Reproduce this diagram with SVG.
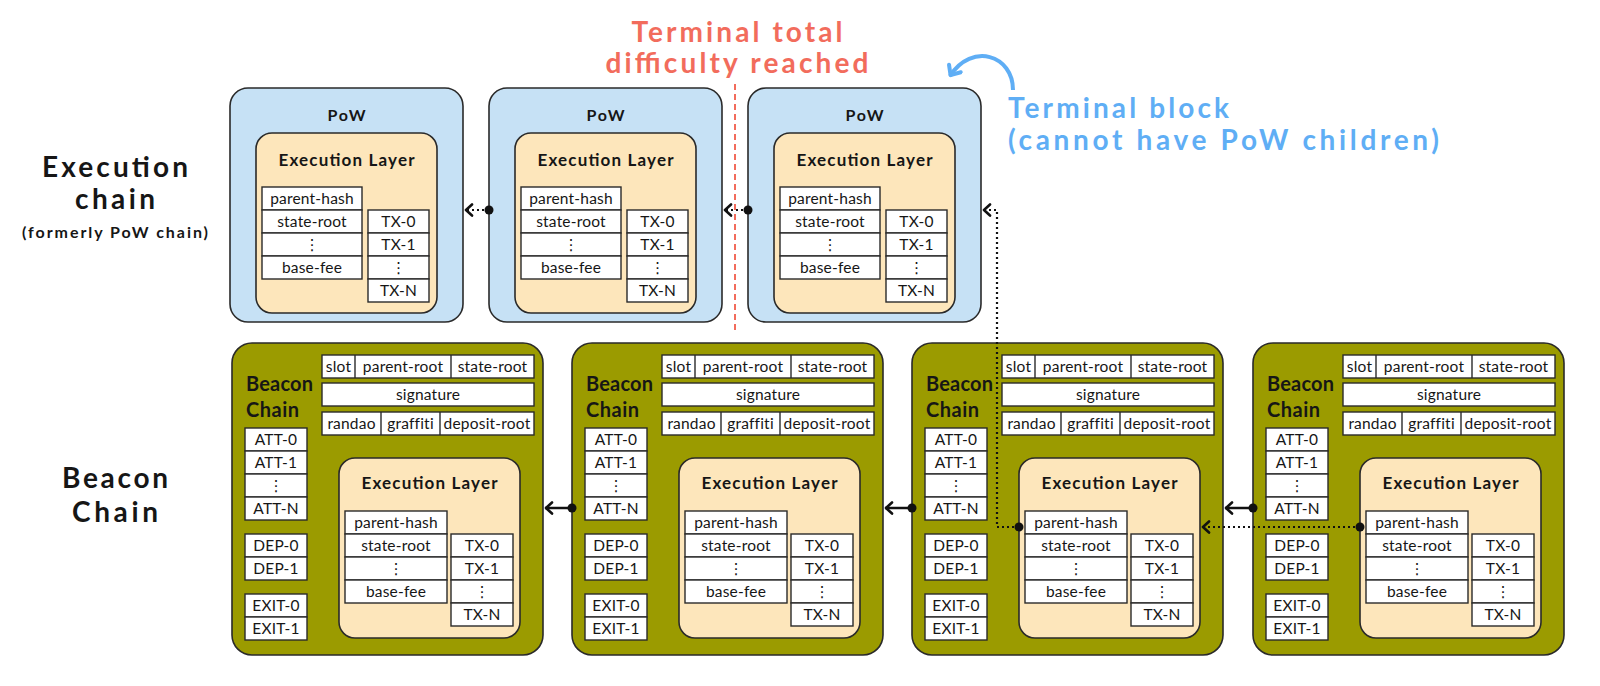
<svg xmlns="http://www.w3.org/2000/svg" width="1600" height="686" viewBox="0 0 1600 686">
<style>
text{font-family:Lato,"Noto Sans","DejaVu Sans",sans-serif;fill:#161616}
.b{font-weight:bold}
.c{text-anchor:middle}
.big{font-size:28px;font-weight:bold;text-anchor:middle}
.t{font-size:15.5px;text-anchor:middle;letter-spacing:0.2px}
.cell{fill:#ffffff;stroke:#2a2a2a;stroke-width:1.4}
.div{stroke:#2a2a2a;stroke-width:1.4}
.pow{fill:#c6e1f5;stroke:#2a2a2a;stroke-width:1.6}
.exe{fill:#fde6bb;stroke:#2a2a2a;stroke-width:1.6}
.bea{fill:#9b9b00;stroke:#2a2a2a;stroke-width:1.6}
.ttl{font-size:17px;font-weight:bold;text-anchor:middle}
.pw{font-size:16px;font-weight:bold;text-anchor:middle}
.bc{font-size:20px;font-weight:bold}
.red{font-size:28px;font-weight:bold;text-anchor:middle;fill:#f26c5c}
.blue{font-size:28px;font-weight:bold;fill:#5faef5}
.dot{stroke:#111;stroke-width:2.2;stroke-dasharray:2 3;fill:none}
.sol{stroke:#111;stroke-width:2.5;fill:none}
</style>
<defs>
<marker id="arr" viewBox="-10 -7 12 14" markerWidth="12" markerHeight="14" refX="0" refY="0" orient="auto" markerUnits="userSpaceOnUse">
<path d="M-7,-5.5 L-1,0 L-7,5.5" fill="none" stroke="#111" stroke-width="2.6" stroke-linecap="round" stroke-linejoin="round"/>
</marker>
<marker id="arrb" viewBox="-12 -9 14 18" markerWidth="14" markerHeight="18" refX="0" refY="0" orient="auto" markerUnits="userSpaceOnUse">
<path d="M-9,-7 L-1,0 L-9,7" fill="none" stroke="#5faef5" stroke-width="4" stroke-linecap="round" stroke-linejoin="round"/>
</marker>
</defs>

<!-- Side labels -->
<g id="label-execution">
<text class="big" x="115" y="177" textLength="146">Execution</text>
<text class="big" x="115" y="209" textLength="80">chain</text>
<text class="c b" x="115" y="238" font-size="16" textLength="186">(formerly PoW chain)</text>
</g>
<g id="label-beacon">
<text class="big" x="115" y="488" textLength="106">Beacon</text>
<text class="big" x="115" y="522" textLength="86">Chain</text>
</g>

<!-- Annotations -->
<g id="ttd">
<text class="red" x="737" y="42" textLength="211">Terminal total</text>
<text class="red" x="737" y="73" textLength="263">difficulty reached</text>
<line x1="735" y1="84" x2="735" y2="330" stroke="#f26c5c" stroke-width="2" stroke-dasharray="6 4"/>
</g>
<g id="terminal-block">
<text class="blue" x="1008" y="118" textLength="221">Terminal block</text>
<text class="blue" x="1008" y="150" textLength="431">(cannot have PoW children)</text>
<path d="M1013,90 C1013,55 972,42 950,76" fill="none" stroke="#5faef5" stroke-width="4" marker-end="url(#arrb)"/>
</g>

<!-- PoW blocks -->
<g id="pow1" transform="translate(230,0)">
<rect class="pow" x="0" y="88" width="233" height="234" rx="18"/>
<text class="pw" x="116.5" y="121" textLength="38">PoW</text>
<rect class="exe" x="26" y="133" width="181" height="180" rx="16"/>
<text class="ttl" x="116.5" y="166" textLength="136">Execution Layer</text>
<rect class="cell" x="32" y="187" width="100" height="23"/><text class="t" x="82" y="204">parent-hash</text>
<rect class="cell" x="32" y="210" width="100" height="23"/><text class="t" x="82" y="227">state-root</text>
<rect class="cell" x="32" y="233" width="100" height="23"/><text class="t" x="82" y="250">⋮</text>
<rect class="cell" x="32" y="256" width="100" height="23"/><text class="t" x="82" y="273">base-fee</text>
<rect class="cell" x="138" y="210" width="61" height="23"/><text class="t" x="168.5" y="227">TX-0</text>
<rect class="cell" x="138" y="233" width="61" height="23"/><text class="t" x="168.5" y="250">TX-1</text>
<rect class="cell" x="138" y="256" width="61" height="23"/><text class="t" x="168.5" y="273">⋮</text>
<rect class="cell" x="138" y="279" width="61" height="23"/><text class="t" x="168.5" y="296">TX-N</text>
</g>
<g id="pow2" transform="translate(489,0)">
<rect class="pow" x="0" y="88" width="233" height="234" rx="18"/>
<text class="pw" x="116.5" y="121" textLength="38">PoW</text>
<rect class="exe" x="26" y="133" width="181" height="180" rx="16"/>
<text class="ttl" x="116.5" y="166" textLength="136">Execution Layer</text>
<rect class="cell" x="32" y="187" width="100" height="23"/><text class="t" x="82" y="204">parent-hash</text>
<rect class="cell" x="32" y="210" width="100" height="23"/><text class="t" x="82" y="227">state-root</text>
<rect class="cell" x="32" y="233" width="100" height="23"/><text class="t" x="82" y="250">⋮</text>
<rect class="cell" x="32" y="256" width="100" height="23"/><text class="t" x="82" y="273">base-fee</text>
<rect class="cell" x="138" y="210" width="61" height="23"/><text class="t" x="168.5" y="227">TX-0</text>
<rect class="cell" x="138" y="233" width="61" height="23"/><text class="t" x="168.5" y="250">TX-1</text>
<rect class="cell" x="138" y="256" width="61" height="23"/><text class="t" x="168.5" y="273">⋮</text>
<rect class="cell" x="138" y="279" width="61" height="23"/><text class="t" x="168.5" y="296">TX-N</text>
</g>
<g id="pow3" transform="translate(748,0)">
<rect class="pow" x="0" y="88" width="233" height="234" rx="18"/>
<text class="pw" x="116.5" y="121" textLength="38">PoW</text>
<rect class="exe" x="26" y="133" width="181" height="180" rx="16"/>
<text class="ttl" x="116.5" y="166" textLength="136">Execution Layer</text>
<rect class="cell" x="32" y="187" width="100" height="23"/><text class="t" x="82" y="204">parent-hash</text>
<rect class="cell" x="32" y="210" width="100" height="23"/><text class="t" x="82" y="227">state-root</text>
<rect class="cell" x="32" y="233" width="100" height="23"/><text class="t" x="82" y="250">⋮</text>
<rect class="cell" x="32" y="256" width="100" height="23"/><text class="t" x="82" y="273">base-fee</text>
<rect class="cell" x="138" y="210" width="61" height="23"/><text class="t" x="168.5" y="227">TX-0</text>
<rect class="cell" x="138" y="233" width="61" height="23"/><text class="t" x="168.5" y="250">TX-1</text>
<rect class="cell" x="138" y="256" width="61" height="23"/><text class="t" x="168.5" y="273">⋮</text>
<rect class="cell" x="138" y="279" width="61" height="23"/><text class="t" x="168.5" y="296">TX-N</text>
</g>

<!-- Beacon blocks -->
<g id="beacon1" transform="translate(232,0)">
<rect class="bea" x="0" y="343" width="311" height="312" rx="20"/>
<rect class="cell" x="90" y="355" width="212" height="23"/><line class="div" x1="123" y1="355" x2="123" y2="378"/><line class="div" x1="219" y1="355" x2="219" y2="378"/>
<text class="t" x="106.5" y="372">slot</text><text class="t" x="171" y="372">parent-root</text><text class="t" x="260.5" y="372">state-root</text>
<rect class="cell" x="90" y="383" width="212" height="23"/><text class="t" x="196" y="400">signature</text>
<rect class="cell" x="90" y="412" width="212" height="23"/><line class="div" x1="149" y1="412" x2="149" y2="435"/><line class="div" x1="208" y1="412" x2="208" y2="435"/>
<text class="t" x="119.5" y="429">randao</text><text class="t" x="178.5" y="429">graffiti</text><text class="t" x="255" y="429">deposit-root</text>
<text class="bc" x="14" y="391" textLength="67">Beacon</text><text class="bc" x="14" y="417" textLength="53">Chain</text>
<rect class="cell" x="13" y="428" width="62" height="23"/><text class="t" x="44" y="445">ATT-0</text>
<rect class="cell" x="13" y="451" width="62" height="23"/><text class="t" x="44" y="468">ATT-1</text>
<rect class="cell" x="13" y="474" width="62" height="23"/><text class="t" x="44" y="491">⋮</text>
<rect class="cell" x="13" y="497" width="62" height="23"/><text class="t" x="44" y="514">ATT-N</text>
<rect class="cell" x="13" y="534" width="62" height="23"/><text class="t" x="44" y="551">DEP-0</text>
<rect class="cell" x="13" y="557" width="62" height="23"/><text class="t" x="44" y="574">DEP-1</text>
<rect class="cell" x="13" y="594" width="62" height="23"/><text class="t" x="44" y="611">EXIT-0</text>
<rect class="cell" x="13" y="617" width="62" height="23"/><text class="t" x="44" y="634">EXIT-1</text>
<rect class="exe" x="107" y="458" width="181" height="180" rx="16"/>
<text class="ttl" x="197.5" y="489" textLength="136">Execution Layer</text>
<rect class="cell" x="113" y="511" width="102" height="23"/><text class="t" x="164" y="528">parent-hash</text>
<rect class="cell" x="113" y="534" width="102" height="23"/><text class="t" x="164" y="551">state-root</text>
<rect class="cell" x="113" y="557" width="102" height="23"/><text class="t" x="164" y="574">⋮</text>
<rect class="cell" x="113" y="580" width="102" height="23"/><text class="t" x="164" y="597">base-fee</text>
<rect class="cell" x="219" y="534" width="62" height="23"/><text class="t" x="250" y="551">TX-0</text>
<rect class="cell" x="219" y="557" width="62" height="23"/><text class="t" x="250" y="574">TX-1</text>
<rect class="cell" x="219" y="580" width="62" height="23"/><text class="t" x="250" y="597">⋮</text>
<rect class="cell" x="219" y="603" width="62" height="23"/><text class="t" x="250" y="620">TX-N</text>
</g>
<g id="beacon2" transform="translate(572,0)">
<rect class="bea" x="0" y="343" width="311" height="312" rx="20"/>
<rect class="cell" x="90" y="355" width="212" height="23"/><line class="div" x1="123" y1="355" x2="123" y2="378"/><line class="div" x1="219" y1="355" x2="219" y2="378"/>
<text class="t" x="106.5" y="372">slot</text><text class="t" x="171" y="372">parent-root</text><text class="t" x="260.5" y="372">state-root</text>
<rect class="cell" x="90" y="383" width="212" height="23"/><text class="t" x="196" y="400">signature</text>
<rect class="cell" x="90" y="412" width="212" height="23"/><line class="div" x1="149" y1="412" x2="149" y2="435"/><line class="div" x1="208" y1="412" x2="208" y2="435"/>
<text class="t" x="119.5" y="429">randao</text><text class="t" x="178.5" y="429">graffiti</text><text class="t" x="255" y="429">deposit-root</text>
<text class="bc" x="14" y="391" textLength="67">Beacon</text><text class="bc" x="14" y="417" textLength="53">Chain</text>
<rect class="cell" x="13" y="428" width="62" height="23"/><text class="t" x="44" y="445">ATT-0</text>
<rect class="cell" x="13" y="451" width="62" height="23"/><text class="t" x="44" y="468">ATT-1</text>
<rect class="cell" x="13" y="474" width="62" height="23"/><text class="t" x="44" y="491">⋮</text>
<rect class="cell" x="13" y="497" width="62" height="23"/><text class="t" x="44" y="514">ATT-N</text>
<rect class="cell" x="13" y="534" width="62" height="23"/><text class="t" x="44" y="551">DEP-0</text>
<rect class="cell" x="13" y="557" width="62" height="23"/><text class="t" x="44" y="574">DEP-1</text>
<rect class="cell" x="13" y="594" width="62" height="23"/><text class="t" x="44" y="611">EXIT-0</text>
<rect class="cell" x="13" y="617" width="62" height="23"/><text class="t" x="44" y="634">EXIT-1</text>
<rect class="exe" x="107" y="458" width="181" height="180" rx="16"/>
<text class="ttl" x="197.5" y="489" textLength="136">Execution Layer</text>
<rect class="cell" x="113" y="511" width="102" height="23"/><text class="t" x="164" y="528">parent-hash</text>
<rect class="cell" x="113" y="534" width="102" height="23"/><text class="t" x="164" y="551">state-root</text>
<rect class="cell" x="113" y="557" width="102" height="23"/><text class="t" x="164" y="574">⋮</text>
<rect class="cell" x="113" y="580" width="102" height="23"/><text class="t" x="164" y="597">base-fee</text>
<rect class="cell" x="219" y="534" width="62" height="23"/><text class="t" x="250" y="551">TX-0</text>
<rect class="cell" x="219" y="557" width="62" height="23"/><text class="t" x="250" y="574">TX-1</text>
<rect class="cell" x="219" y="580" width="62" height="23"/><text class="t" x="250" y="597">⋮</text>
<rect class="cell" x="219" y="603" width="62" height="23"/><text class="t" x="250" y="620">TX-N</text>
</g>
<g id="beacon3" transform="translate(912,0)">
<rect class="bea" x="0" y="343" width="311" height="312" rx="20"/>
<rect class="cell" x="90" y="355" width="212" height="23"/><line class="div" x1="123" y1="355" x2="123" y2="378"/><line class="div" x1="219" y1="355" x2="219" y2="378"/>
<text class="t" x="106.5" y="372">slot</text><text class="t" x="171" y="372">parent-root</text><text class="t" x="260.5" y="372">state-root</text>
<rect class="cell" x="90" y="383" width="212" height="23"/><text class="t" x="196" y="400">signature</text>
<rect class="cell" x="90" y="412" width="212" height="23"/><line class="div" x1="149" y1="412" x2="149" y2="435"/><line class="div" x1="208" y1="412" x2="208" y2="435"/>
<text class="t" x="119.5" y="429">randao</text><text class="t" x="178.5" y="429">graffiti</text><text class="t" x="255" y="429">deposit-root</text>
<text class="bc" x="14" y="391" textLength="67">Beacon</text><text class="bc" x="14" y="417" textLength="53">Chain</text>
<rect class="cell" x="13" y="428" width="62" height="23"/><text class="t" x="44" y="445">ATT-0</text>
<rect class="cell" x="13" y="451" width="62" height="23"/><text class="t" x="44" y="468">ATT-1</text>
<rect class="cell" x="13" y="474" width="62" height="23"/><text class="t" x="44" y="491">⋮</text>
<rect class="cell" x="13" y="497" width="62" height="23"/><text class="t" x="44" y="514">ATT-N</text>
<rect class="cell" x="13" y="534" width="62" height="23"/><text class="t" x="44" y="551">DEP-0</text>
<rect class="cell" x="13" y="557" width="62" height="23"/><text class="t" x="44" y="574">DEP-1</text>
<rect class="cell" x="13" y="594" width="62" height="23"/><text class="t" x="44" y="611">EXIT-0</text>
<rect class="cell" x="13" y="617" width="62" height="23"/><text class="t" x="44" y="634">EXIT-1</text>
<rect class="exe" x="107" y="458" width="181" height="180" rx="16"/>
<text class="ttl" x="197.5" y="489" textLength="136">Execution Layer</text>
<rect class="cell" x="113" y="511" width="102" height="23"/><text class="t" x="164" y="528">parent-hash</text>
<rect class="cell" x="113" y="534" width="102" height="23"/><text class="t" x="164" y="551">state-root</text>
<rect class="cell" x="113" y="557" width="102" height="23"/><text class="t" x="164" y="574">⋮</text>
<rect class="cell" x="113" y="580" width="102" height="23"/><text class="t" x="164" y="597">base-fee</text>
<rect class="cell" x="219" y="534" width="62" height="23"/><text class="t" x="250" y="551">TX-0</text>
<rect class="cell" x="219" y="557" width="62" height="23"/><text class="t" x="250" y="574">TX-1</text>
<rect class="cell" x="219" y="580" width="62" height="23"/><text class="t" x="250" y="597">⋮</text>
<rect class="cell" x="219" y="603" width="62" height="23"/><text class="t" x="250" y="620">TX-N</text>
</g>
<g id="beacon4" transform="translate(1253,0)">
<rect class="bea" x="0" y="343" width="311" height="312" rx="20"/>
<rect class="cell" x="90" y="355" width="212" height="23"/><line class="div" x1="123" y1="355" x2="123" y2="378"/><line class="div" x1="219" y1="355" x2="219" y2="378"/>
<text class="t" x="106.5" y="372">slot</text><text class="t" x="171" y="372">parent-root</text><text class="t" x="260.5" y="372">state-root</text>
<rect class="cell" x="90" y="383" width="212" height="23"/><text class="t" x="196" y="400">signature</text>
<rect class="cell" x="90" y="412" width="212" height="23"/><line class="div" x1="149" y1="412" x2="149" y2="435"/><line class="div" x1="208" y1="412" x2="208" y2="435"/>
<text class="t" x="119.5" y="429">randao</text><text class="t" x="178.5" y="429">graffiti</text><text class="t" x="255" y="429">deposit-root</text>
<text class="bc" x="14" y="391" textLength="67">Beacon</text><text class="bc" x="14" y="417" textLength="53">Chain</text>
<rect class="cell" x="13" y="428" width="62" height="23"/><text class="t" x="44" y="445">ATT-0</text>
<rect class="cell" x="13" y="451" width="62" height="23"/><text class="t" x="44" y="468">ATT-1</text>
<rect class="cell" x="13" y="474" width="62" height="23"/><text class="t" x="44" y="491">⋮</text>
<rect class="cell" x="13" y="497" width="62" height="23"/><text class="t" x="44" y="514">ATT-N</text>
<rect class="cell" x="13" y="534" width="62" height="23"/><text class="t" x="44" y="551">DEP-0</text>
<rect class="cell" x="13" y="557" width="62" height="23"/><text class="t" x="44" y="574">DEP-1</text>
<rect class="cell" x="13" y="594" width="62" height="23"/><text class="t" x="44" y="611">EXIT-0</text>
<rect class="cell" x="13" y="617" width="62" height="23"/><text class="t" x="44" y="634">EXIT-1</text>
<rect class="exe" x="107" y="458" width="181" height="180" rx="16"/>
<text class="ttl" x="197.5" y="489" textLength="136">Execution Layer</text>
<rect class="cell" x="113" y="511" width="102" height="23"/><text class="t" x="164" y="528">parent-hash</text>
<rect class="cell" x="113" y="534" width="102" height="23"/><text class="t" x="164" y="551">state-root</text>
<rect class="cell" x="113" y="557" width="102" height="23"/><text class="t" x="164" y="574">⋮</text>
<rect class="cell" x="113" y="580" width="102" height="23"/><text class="t" x="164" y="597">base-fee</text>
<rect class="cell" x="219" y="534" width="62" height="23"/><text class="t" x="250" y="551">TX-0</text>
<rect class="cell" x="219" y="557" width="62" height="23"/><text class="t" x="250" y="574">TX-1</text>
<rect class="cell" x="219" y="580" width="62" height="23"/><text class="t" x="250" y="597">⋮</text>
<rect class="cell" x="219" y="603" width="62" height="23"/><text class="t" x="250" y="620">TX-N</text>
</g>

<!-- Connectors -->
<g id="connectors">
<path class="dot" d="M489,210 H465" marker-end="url(#arr)"/><circle cx="489" cy="210" r="4.5" fill="#111"/>
<path class="dot" d="M748,210 H724" marker-end="url(#arr)"/><circle cx="748" cy="210" r="4.5" fill="#111"/>
<path class="sol" d="M572,508 H545" marker-end="url(#arr)"/><circle cx="572" cy="508" r="4.5" fill="#111"/>
<path class="sol" d="M912,508 H885" marker-end="url(#arr)"/><circle cx="912" cy="508" r="4.5" fill="#111"/>
<path class="sol" d="M1253,508 H1225" marker-end="url(#arr)"/><circle cx="1253" cy="508" r="4.5" fill="#111"/>
<path class="dot" d="M1360,527 H1202" marker-end="url(#arr)"/><circle cx="1360" cy="527" r="4.5" fill="#111"/>
<path class="dot" d="M1019,527 H997 V210 H983" marker-end="url(#arr)"/><circle cx="1019" cy="527" r="4.5" fill="#111"/>
</g>
</svg>
